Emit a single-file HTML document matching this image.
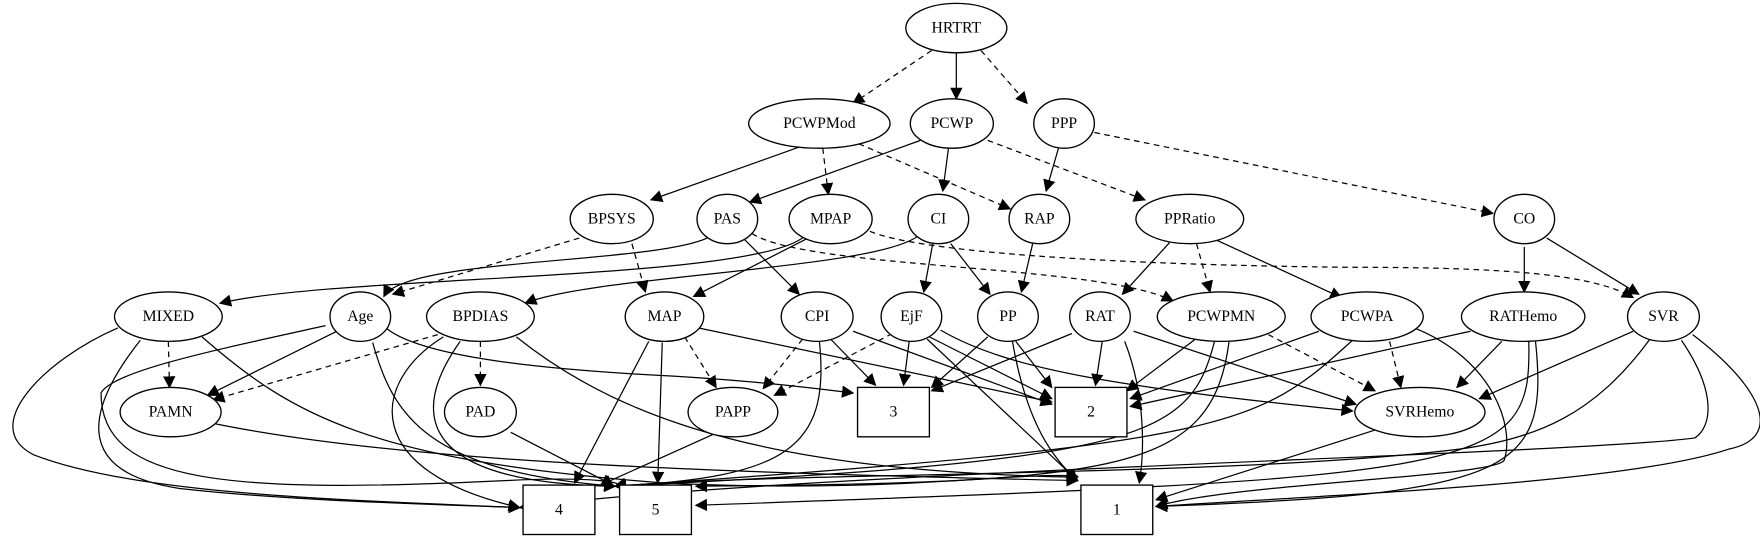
<!DOCTYPE html>
<html><head><meta charset="utf-8"><style>
html,body{margin:0;padding:0;background:#fff}
svg{display:block}
text{font-family:"Liberation Serif",serif;font-size:14px;text-anchor:middle;dominant-baseline:central}
.n{fill:#fff;stroke:#000;stroke-width:1.2}
.e{fill:none;stroke:#000;stroke-width:1.1}
.d{stroke-dasharray:5,4}
</style></head><body>
<svg width="1760" height="539" viewBox="0 0 1568 480" preserveAspectRatio="none" xmlns="http://www.w3.org/2000/svg">
<defs><marker id="a" viewBox="0 0 10 10" refX="9" refY="5" markerWidth="11" markerHeight="11" markerUnits="userSpaceOnUse" orient="auto"><path d="M0,0L10,5L0,10z"/></marker></defs>
<g marker-end="url(#a)">
<path class="e d" d="M830,45 L760,92"/>
<path class="e" d="M852,47 L852,88"/>
<path class="e d" d="M874,45 L915,92"/>
<path class="e" d="M712,131 L580,178"/>
<path class="e d" d="M733,132 L738,173"/>
<path class="e d" d="M765,128 L900,186"/>
<path class="e" d="M820,125 L668,180"/>
<path class="e" d="M845,132 L840,170"/>
<path class="e d" d="M880,125 L1020,178"/>
<path class="e" d="M943,132 L932,170"/>
<path class="e d" d="M975,118 L1330,190"/>
<path class="e d" d="M516,212 L350,262"/>
<path class="e d" d="M563,217 L575,260"/>
<path class="e" d="M630,212 C580,235 360,230 342,264"/>
<path class="e" d="M663,213 L712,262"/>
<path class="e d" d="M670,208 C720,240 980,235 1045,268"/>
<path class="e" d="M716,211 C670,250 300,245 196,270"/>
<path class="e" d="M720,212 L618,264"/>
<path class="e d" d="M775,206 C820,225 1000,236 1200,238 C1350,238 1420,245 1455,265"/>
<path class="e" d="M818,210 C780,240 530,245 468,270"/>
<path class="e" d="M831,217 L823,260"/>
<path class="e" d="M847,217 L882,262"/>
<path class="e" d="M920,217 L910,260"/>
<path class="e" d="M1042,216 L1000,262"/>
<path class="e d" d="M1066,217 L1078,260"/>
<path class="e" d="M1082,213 L1195,265"/>
<path class="e" d="M1358,220 L1358,260"/>
<path class="e" d="M1378,212 L1460,262"/>
<path class="e d" d="M150,304 L151,345"/>
<path class="e" d="M105,292 C40,320 -20,380 30,405 C120,440 300,445 463,452"/>
<path class="e" d="M125,303 C80,360 60,420 160,435 C250,445 350,448 463,452"/>
<path class="e" d="M180,300 C260,370 330,410 590,430 C800,440 900,420 960,424"/>
<path class="e" d="M300,295 L185,352"/>
<path class="e" d="M290,290 C200,310 100,330 90,350 C90,430 200,440 450,428 C530,424 560,430 548,433"/>
<path class="e" d="M332,305 C350,370 380,420 548,433"/>
<path class="e" d="M345,293 C380,320 500,330 600,335 C680,340 720,345 760,350"/>
<path class="e d" d="M390,298 L190,356"/>
<path class="e d" d="M428,304 L428,343"/>
<path class="e" d="M395,300 C330,340 320,420 463,452"/>
<path class="e" d="M410,304 C370,360 360,430 548,433"/>
<path class="e" d="M460,300 C560,380 700,420 960,425"/>
<path class="e d" d="M610,300 L638,345"/>
<path class="e" d="M578,304 L512,430"/>
<path class="e" d="M590,305 L586,430"/>
<path class="e" d="M622,292 L937,358"/>
<path class="e d" d="M715,302 L680,346"/>
<path class="e" d="M740,302 L780,343"/>
<path class="e" d="M760,295 L937,360"/>
<path class="e" d="M730,304 C740,400 700,425 548,433"/>
<path class="e d" d="M795,297 L690,352"/>
<path class="e" d="M810,304 L805,343"/>
<path class="e" d="M828,300 L937,355"/>
<path class="e" d="M826,302 L960,428"/>
<path class="e" d="M838,294 C900,330 1000,345 1205,366"/>
<path class="e" d="M880,300 L830,345"/>
<path class="e" d="M905,304 L937,345"/>
<path class="e" d="M902,304 C915,380 940,410 960,428"/>
<path class="e" d="M955,297 L830,348"/>
<path class="e" d="M982,304 L976,343"/>
<path class="e" d="M1002,304 C1020,350 1020,400 1015,430"/>
<path class="e" d="M1010,295 L1208,360"/>
<path class="e" d="M1065,302 L1004,348"/>
<path class="e d" d="M1130,298 L1225,348"/>
<path class="e" d="M1082,304 C1060,390 1020,410 548,433"/>
<path class="e" d="M1095,304 C1080,420 1000,430 620,433"/>
<path class="e" d="M1175,295 L1007,355"/>
<path class="e d" d="M1238,304 L1248,345"/>
<path class="e" d="M1205,303 C1120,380 1100,395 548,433"/>
<path class="e" d="M1260,292 C1330,320 1350,380 1340,410 C1330,425 1100,430 1030,451"/>
<path class="e" d="M1310,295 L1007,362"/>
<path class="e" d="M1338,304 L1298,345"/>
<path class="e" d="M1362,304 C1365,420 1330,425 620,450"/>
<path class="e" d="M1368,304 C1380,420 1350,440 1030,451"/>
<path class="e" d="M1455,295 L1318,355"/>
<path class="e" d="M1470,302 C1420,370 1370,390 1300,400 C1100,425 700,420 548,433"/>
<path class="e" d="M1498,303 C1530,350 1525,380 1510,390 C1400,405 700,420 463,452"/>
<path class="e" d="M1508,298 C1570,345 1590,390 1540,400 C1450,430 1200,440 1030,451"/>
<path class="e" d="M190,377 C350,410 600,420 960,428"/>
<path class="e" d="M455,385 L546,432"/>
<path class="e" d="M635,387 L535,432"/>
<path class="e" d="M1225,383 L1030,445"/>
</g>
<g>
<ellipse class="n" cx="852" cy="25" rx="45" ry="22"/><text x="852" y="25">HRTRT</text>
<ellipse class="n" cx="730" cy="110" rx="63" ry="22"/><text x="730" y="110">PCWPMod</text>
<ellipse class="n" cx="848" cy="110" rx="37" ry="22"/><text x="848" y="110">PCWP</text>
<ellipse class="n" cx="948" cy="110" rx="27" ry="22"/><text x="948" y="110">PPP</text>
<ellipse class="n" cx="545" cy="195" rx="37" ry="22"/><text x="545" y="195">BPSYS</text>
<ellipse class="n" cx="648" cy="195" rx="27" ry="22"/><text x="648" y="195">PAS</text>
<ellipse class="n" cx="740" cy="195" rx="37" ry="22"/><text x="740" y="195">MPAP</text>
<ellipse class="n" cx="836" cy="195" rx="27" ry="22"/><text x="836" y="195">CI</text>
<ellipse class="n" cx="926" cy="195" rx="27" ry="22"/><text x="926" y="195">RAP</text>
<ellipse class="n" cx="1060" cy="195" rx="48" ry="22"/><text x="1060" y="195">PPRatio</text>
<ellipse class="n" cx="1358" cy="195" rx="27" ry="22"/><text x="1358" y="195">CO</text>
<ellipse class="n" cx="150" cy="282" rx="48" ry="22"/><text x="150" y="282">MIXED</text>
<ellipse class="n" cx="321" cy="282" rx="27" ry="22"/><text x="321" y="282">Age</text>
<ellipse class="n" cx="428" cy="282" rx="48" ry="22"/><text x="428" y="282">BPDIAS</text>
<ellipse class="n" cx="592" cy="282" rx="35" ry="22"/><text x="592" y="282">MAP</text>
<ellipse class="n" cx="728" cy="282" rx="32" ry="22"/><text x="728" y="282">CPI</text>
<ellipse class="n" cx="812" cy="282" rx="27" ry="22"/><text x="812" y="282">EjF</text>
<ellipse class="n" cx="898" cy="282" rx="27" ry="22"/><text x="898" y="282">PP</text>
<ellipse class="n" cx="980" cy="282" rx="27" ry="22"/><text x="980" y="282">RAT</text>
<ellipse class="n" cx="1088" cy="282" rx="57" ry="22"/><text x="1088" y="282">PCWPMN</text>
<ellipse class="n" cx="1218" cy="282" rx="50" ry="22"/><text x="1218" y="282">PCWPA</text>
<ellipse class="n" cx="1357" cy="282" rx="55" ry="22"/><text x="1357" y="282">RATHemo</text>
<ellipse class="n" cx="1482" cy="282" rx="32" ry="22"/><text x="1482" y="282">SVR</text>
<ellipse class="n" cx="152" cy="367" rx="45" ry="22"/><text x="152" y="367">PAMN</text>
<ellipse class="n" cx="428" cy="367" rx="32" ry="22"/><text x="428" y="367">PAD</text>
<ellipse class="n" cx="653" cy="367" rx="40" ry="22"/><text x="653" y="367">PAPP</text>
<ellipse class="n" cx="1265" cy="367" rx="58" ry="22"/><text x="1265" y="367">SVRHemo</text>
<rect class="n" x="764" y="345" width="64" height="44"/><text x="796" y="367">3</text>
<rect class="n" x="940" y="345" width="64" height="44"/><text x="972" y="367">2</text>
<rect class="n" x="466" y="432" width="64" height="44"/><text x="498" y="454">4</text>
<rect class="n" x="552" y="432" width="64" height="44"/><text x="584" y="454">5</text>
<rect class="n" x="963" y="432" width="64" height="44"/><text x="995" y="454">1</text>
</g>
</svg>
</body></html>
